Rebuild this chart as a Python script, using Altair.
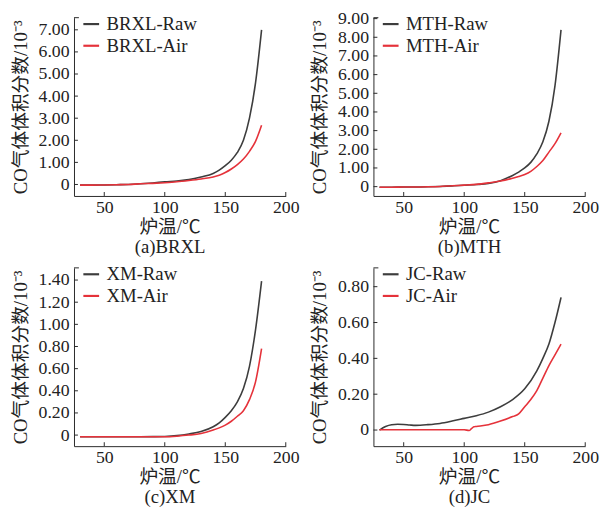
import altair as alt
import pandas as pd

FONT = "Liberation Serif, Noto Sans CJK SC"
RAW_COLOR = "#3d3d3d"
AIR_COLOR = "#e5323a"
AXIS_COLOR = "#2a2a2a"

# ---------------- data ----------------
brxl_t = [30, 40, 50, 60, 70, 80, 90, 100, 110, 120, 130, 140, 145, 150, 155, 160, 165, 170, 175, 180]
brxl_raw = [-0.03, -0.03, -0.02, -0.01, 0.0, 0.03, 0.07, 0.12, 0.16, 0.22, 0.34, 0.5, 0.65, 0.85, 1.1, 1.45, 2.0, 3.0, 4.6, 7.0]
brxl_air = [-0.03, -0.03, -0.02, -0.01, 0.0, 0.03, 0.05, 0.08, 0.12, 0.18, 0.25, 0.34, 0.42, 0.54, 0.7, 0.9, 1.15, 1.5, 1.95, 2.68]

mth_t = [30, 40, 50, 60, 70, 80, 90, 100, 110, 120, 130, 140, 145, 150, 155, 160, 165, 170, 175, 180]
mth_raw = [-0.03, -0.03, -0.02, -0.02, -0.01, 0.01, 0.04, 0.07, 0.11, 0.17, 0.32, 0.6, 0.78, 1.0, 1.3, 1.75, 2.4, 3.5, 5.4, 8.4]
mth_air = [-0.03, -0.03, -0.02, -0.02, -0.01, 0.01, 0.05, 0.08, 0.12, 0.2, 0.3, 0.45, 0.54, 0.65, 0.82, 1.08, 1.4, 1.85, 2.3, 2.88]

xm_t = [30, 40, 50, 60, 70, 80, 90, 100, 110, 120, 130, 140, 145, 150, 155, 160, 165, 170, 175, 180]
xm_raw = [-0.015, -0.015, -0.015, -0.015, -0.015, -0.015, -0.014, -0.012, -0.005, 0.01, 0.032, 0.075, 0.11, 0.16, 0.22, 0.3, 0.42, 0.62, 0.95, 1.39]
xm_air = [-0.015, -0.015, -0.015, -0.015, -0.015, -0.015, -0.015, -0.015, -0.01, 0.0, 0.015, 0.045, 0.065, 0.09, 0.125, 0.17, 0.22, 0.32, 0.48, 0.78]

jc_raw_t = [30, 35, 40, 45, 50, 55, 60, 70, 80, 90, 100, 110, 120, 130, 140, 150, 160, 165, 170, 175, 180]
jc_raw = [0.0, 0.02, 0.03, 0.032, 0.031, 0.028, 0.026, 0.03, 0.037, 0.05, 0.065, 0.08, 0.1, 0.13, 0.17, 0.23, 0.33, 0.4, 0.48, 0.6, 0.74]
jc_air_t = [30, 50, 70, 90, 100, 104, 106, 108, 110, 120, 130, 140, 145, 150, 155, 160, 165, 170, 175, 180]
jc_air = [0.002, 0.002, 0.002, 0.002, 0.002, -0.003, 0.008, 0.018, 0.02, 0.03, 0.05, 0.075, 0.09, 0.13, 0.17, 0.22, 0.29, 0.36, 0.42, 0.48]

x_ticks = [50, 100, 150, 200]
brxl_yticks = [0, 1, 2, 3, 4, 5, 6, 7]
mth_yticks = [0, 1, 2, 3, 4, 5, 6, 7, 8, 9]
xm_yticks = [0, 0.2, 0.4, 0.6, 0.8, 1.0, 1.2, 1.4]
jc_yticks = [0, 0.2, 0.4, 0.6, 0.8]

W, H = 215, 181
Y_TITLE = "CO气体体积分数/10⁻³"
X_TITLE = "炉温/℃"

AX = dict(grid=False, ticks=False, domainColor=AXIS_COLOR, domainWidth=1,
          labelFont=FONT, labelFontSize=18, labelColor="#222",
          titleFont=FONT, titleFontSize=19, titleFontWeight="normal", titleColor="#222")


def panel(name, caption, raw_t, raw_v, air_t, air_v, ydom, yticks):
    raw_lab, air_lab = f"{name}-Raw", f"{name}-Air"
    df = pd.concat([
        pd.DataFrame({"t": raw_t, "v": raw_v, "s": raw_lab}),
        pd.DataFrame({"t": air_t, "v": air_v, "s": air_lab}),
    ])
    xs = alt.Scale(domain=[25, 200], nice=False, zero=False)
    ys = alt.Scale(domain=ydom, nice=False, zero=False)
    xax = alt.Axis(values=x_ticks, title=[X_TITLE, caption], titleX=97, titleAlign="center",
                   titleLineHeight=20, titlePadding=1, labelPadding=3, labelFlush=False, **AX)
    yax = alt.Axis(values=yticks, title=Y_TITLE, titlePadding=8, labelPadding=5,
                   labelExpr="datum.value == 0 ? '0' : format(datum.value, '.2f')", **AX)

    lines = alt.Chart(df).mark_line(strokeWidth=1.6, interpolate="monotone").encode(
        x=alt.X("t:Q", scale=xs, axis=xax),
        y=alt.Y("v:Q", scale=ys, axis=yax),
        color=alt.Color("s:N", scale=alt.Scale(domain=[raw_lab, air_lab], range=[RAW_COLOR, AIR_COLOR]),
                        legend=alt.Legend(orient="none", legendX=8, legendY=-3, title=None,
                                          symbolType="stroke", symbolSize=256, symbolStrokeWidth=2.2,
                                          labelFont=FONT, labelFontSize=19, labelColor="#222",
                                          labelOffset=6, rowPadding=2)),
        order=alt.Order("t:Q"),
    )
    xt = alt.Chart(pd.DataFrame({"t": x_ticks})).mark_rule(color=AXIS_COLOR, strokeWidth=1).encode(
        x=alt.X("t:Q", scale=xs, axis=xax), y=alt.value(H), y2=alt.value(H - 4))
    yt = alt.Chart(pd.DataFrame({"v": yticks})).mark_rule(color=AXIS_COLOR, strokeWidth=1).encode(
        y=alt.Y("v:Q", scale=ys, axis=yax), x=alt.value(0), x2=alt.value(4))
    top = alt.Chart(pd.DataFrame({"v": [0]})).mark_rule(color=AXIS_COLOR, strokeWidth=1).encode(
        y=alt.value(0), x=alt.value(0), x2=alt.value(5))
    return alt.layer(lines, xt, yt, top).properties(width=W, height=H)


pa = panel("BRXL", "(a)BRXL", brxl_t, brxl_raw, brxl_t, brxl_air, [-0.52, 7.55], brxl_yticks)
pb = panel("MTH", "(b)MTH", mth_t, mth_raw, mth_t, mth_air, [-0.5, 9.05], mth_yticks)
pc = panel("XM", "(c)XM", xm_t, xm_raw, xm_t, xm_air, [-0.1, 1.51], xm_yticks)
pd_ = panel("JC", "(d)JC", jc_raw_t, jc_raw, jc_air_t, jc_air, [-0.09, 0.905], jc_yticks)

chart = alt.concat(pa, pb, pc, pd_, columns=2, spacing={"row": 73, "column": 89}, bounds="flush").resolve_scale(
    x="independent", y="independent", color="independent"
).resolve_legend(color="independent").properties(
    padding={"top": -3, "left": 3, "right": 1, "bottom": 1}, background="white"
).configure_view(
    stroke=None
)

chart.save("out.html", embed_options={"renderer": "svg", "actions": False})
